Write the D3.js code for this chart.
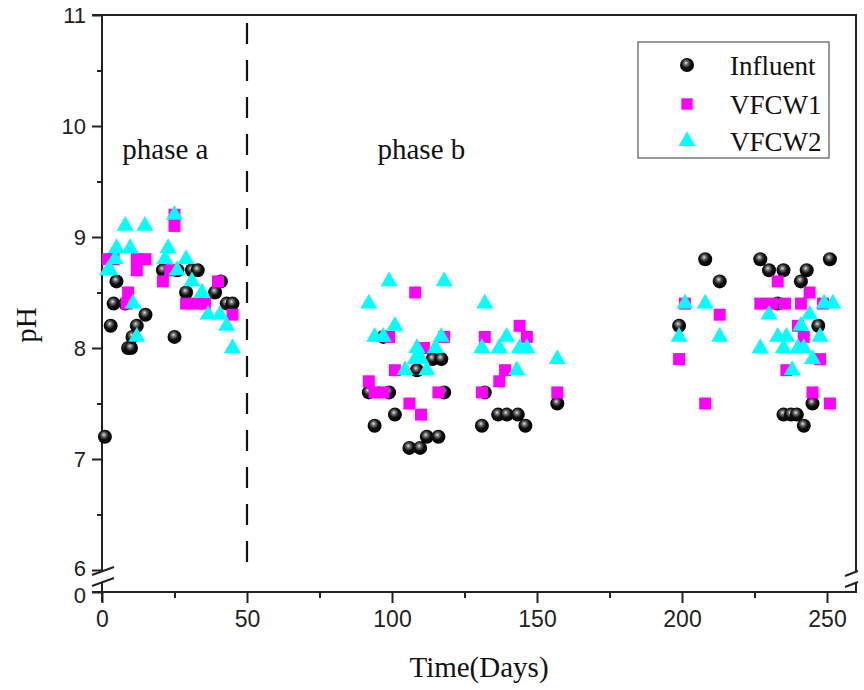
<!DOCTYPE html>
<html>
<head>
<meta charset="utf-8">
<script src="https://cdn.jsdelivr.net/npm/d3@7"></script>
<style>
  body { margin: 0; background: #fff; }
  .tick text { font-family: "Liberation Sans", Arial, sans-serif; font-size: 23px; fill: #222; }
  .ylab .tick text { font-size: 22px; }
  .serif { font-family: "Liberation Serif", "Times New Roman", serif; fill: #111; }
</style>
</head>
<body>
<svg id="chart" width="864" height="690"></svg>
<script>
// Influent
var influentDays = [1, 3, 4, 5, 8, 9, 10, 10.5, 12, 15, 21, 25, 26, 29, 31, 33, 39, 41, 43, 45,
    92, 94, 97, 99, 101, 106, 109.7, 108.6, 112, 116, 114, 117, 118, 131, 132, 136.6, 139.6, 143.4, 146, 157,
    199, 208, 213, 227, 230, 233, 235, 235, 237.6, 239.6, 241, 242, 243, 245, 247, 251]
var influentPH = [7.2, 8.2, 8.4, 8.6, 8.4, 8.0, 8.0, 8.1, 8.2, 8.3, 8.7, 8.1, 8.7, 8.5, 8.7, 8.7, 8.5, 8.6, 8.4, 8.4,
    7.6, 7.3, 8.1, 7.6, 7.4, 7.1, 7.1, 7.8, 7.2, 7.2, 7.9, 7.9, 7.6, 7.3, 7.6, 7.4, 7.4, 7.4, 7.3, 7.5,
    8.2, 8.8, 8.6, 8.8, 8.7, 8.4, 8.7, 7.4, 7.4, 7.4, 8.6, 7.3, 8.7, 7.5, 8.2, 8.8]

// VFCW1
var vfcw1Days = [2, 4, 8.5, 9, 12, 12, 15, 21, 23.5, 25, 25, 29, 33, 35.5, 40, 45,
    92, 94, 97, 99, 101, 106, 108, 110, 111, 116, 118, 131, 132, 137, 139, 144, 146.5, 157,
    199, 201, 208, 213, 227, 231, 233, 235.5, 236, 240, 241, 242, 244, 245, 247.6, 248.6, 251]
var vfcw1PH = [8.8, 8.8, 8.4, 8.5, 8.7, 8.8, 8.8, 8.6, 8.7, 9.1, 9.2, 8.4, 8.4, 8.4, 8.6, 8.3,
    7.7, 7.6, 7.6, 8.1, 7.8, 7.5, 8.5, 7.4, 8.0, 7.6, 8.1, 7.6, 8.1, 7.7, 7.8, 8.2, 8.1, 7.6,
    7.9, 8.4, 7.5, 8.3, 8.4, 8.4, 8.6, 8.4, 7.8, 8.2, 8.4, 8.1, 8.5, 7.6, 7.9, 8.4, 7.5]

// VFCW2
var vfcw2Days = [2, 2.8, 4.5, 5, 8, 9.7, 10.7, 12, 14.8, 21.7, 22.8, 25, 25.9, 29, 31, 34.5, 36.6, 40.7, 43, 45,
    92, 94, 97, 99, 101, 104.5, 108, 108.6, 110, 112, 115, 117, 118, 131, 132, 137, 139.5, 143, 144, 146.5, 157,
    199, 201, 208, 213, 227, 230, 233, 235, 236, 238, 240, 241, 242, 244, 245, 247.6, 249, 252]
var vfcw2PH = [8.7, 8.7, 8.8, 8.9, 9.1, 8.9, 8.4, 8.1, 9.1, 8.8, 8.9, 9.2, 8.7, 8.8, 8.6, 8.5, 8.3, 8.3, 8.2, 8.0,
    8.4, 8.1, 8.1, 8.6, 8.2, 7.8, 7.9, 8.0, 7.9, 7.8, 8.0, 8.1, 8.6, 8.0, 8.4, 8.0, 8.1, 7.8, 8.0, 8.0, 7.9,
    8.1, 8.4, 8.4, 8.1, 8.0, 8.3, 8.1, 8.0, 8.1, 7.8, 8.0, 8.2, 8.0, 8.3, 7.9, 8.1, 8.4, 8.4]

var xMajorTicks = [0, 50, 100, 150, 200, 250]
var xMinorTicks = [25, 75, 125, 175, 225]
var yMajorTicks = [6, 7, 8, 9, 10, 11]
var yMinorTicks = [6.5, 7.5, 8.5, 9.5, 10.5]
var seriesNames = ['Influent', 'VFCW1', 'VFCW2']
var phaseLabels = [{text: 'phase a', day: 7, ph: 9.7}, {text: 'phase b', day: 95, ph: 9.7}]
var phaseBoundary = 50

function zip(days, ph) {
    return days.map(function (d, i) { return {day: d, ph: ph[i]} })
}

function desenhar() {
    var svg = d3.select('#chart')

    var left = 102, right = 856, top = 15, bottom = 592, yBreakBottom = 570

    var x = d3.scaleLinear().domain([0, 260]).range([left, right])
    var y = d3.scaleLinear().domain([6, 11]).range([yBreakBottom, top])

    // gradient for glossy black balls
    var defs = svg.append('defs')
    var grad = defs.append('radialGradient')
        .attr('id', 'ball')
        .attr('cx', '45%').attr('cy', '40%').attr('r', '60%')
        .attr('fx', '42%').attr('fy', '35%')
    grad.append('stop').attr('offset', '0%').attr('stop-color', '#e8e8e8')
    grad.append('stop').attr('offset', '22%').attr('stop-color', '#777')
    grad.append('stop').attr('offset', '55%').attr('stop-color', '#111')
    grad.append('stop').attr('offset', '100%').attr('stop-color', '#000')

    // x axis (bottom)
    var xAxis = d3.axisBottom(x).tickValues(xMajorTicks).tickSize(11).tickPadding(8).tickFormat(d3.format('d'))
    var gx = svg.append('g')
        .attr('transform', 'translate(0,' + bottom + ')')
        .call(xAxis)
    gx.select('.domain').remove()
    gx.selectAll('.tick line').attr('stroke', '#222').attr('stroke-width', 2)

    svg.append('g')
        .attr('transform', 'translate(0,' + bottom + ')')
        .call(d3.axisBottom(x).tickValues(xMinorTicks).tickSize(6).tickFormat(''))
        .call(function (g) { g.select('.domain').remove() })
        .selectAll('.tick line').attr('stroke', '#222').attr('stroke-width', 2)

    // y axis (left, upper part)
    var gy = svg.append('g')
        .attr('class', 'ylab')
        .attr('transform', 'translate(' + left + ',0)')
        .call(d3.axisLeft(y).tickValues(yMajorTicks).tickSize(10).tickPadding(6).tickFormat(d3.format('d')))
    gy.select('.domain').remove()
    gy.selectAll('.tick line').attr('stroke', '#222').attr('stroke-width', 2)
    gy.selectAll('.tick text').attr('dy', '0.36em')
        .filter(function (d) { return d === 6 })
        .attr('y', -2)

    svg.append('g')
        .attr('transform', 'translate(' + left + ',0)')
        .call(d3.axisLeft(y).tickValues(yMinorTicks).tickSize(5).tickFormat(''))
        .call(function (g) { g.select('.domain').remove() })
        .selectAll('.tick line').attr('stroke', '#222').attr('stroke-width', 2)

    // y axis lower part, only the 0
    var yLow = d3.scaleLinear().domain([0, 1]).range([bottom, bottom - 111])
    var gy0 = svg.append('g')
        .attr('class', 'ylab')
        .attr('transform', 'translate(' + left + ',0)')
        .call(d3.axisLeft(yLow).tickValues([0]).tickSize(10).tickPadding(6).tickFormat(d3.format('d')))
    gy0.select('.domain').remove()
    gy0.selectAll('.tick line').attr('stroke', '#222').attr('stroke-width', 2)
    gy0.selectAll('.tick text').attr('dy', '0.36em').attr('y', 3)

    // frame lines
    var frame = svg.append('g').attr('stroke', '#222').attr('stroke-width', 2).attr('fill', 'none')
    frame.append('line').attr('x1', left - 10).attr('x2', right + 1).attr('y1', top).attr('y2', top)
    frame.append('line').attr('x1', left - 10).attr('x2', right + 1).attr('y1', bottom).attr('y2', bottom)
    frame.append('line').attr('x1', left).attr('x2', left).attr('y1', top).attr('y2', yBreakBottom + 2)
    frame.append('line').attr('x1', left).attr('x2', left).attr('y1', yBreakBottom + 13).attr('y2', bottom + 10)
    frame.append('line').attr('x1', right).attr('x2', right).attr('y1', top).attr('y2', yBreakBottom + 2)
    frame.append('line').attr('x1', right).attr('x2', right).attr('y1', yBreakBottom + 13).attr('y2', bottom)

    // break marks
    var brk = svg.append('g').attr('stroke', '#222').attr('stroke-width', 2)
    ;[0, 11].forEach(function (o) {
        brk.append('line').attr('x1', left - 10).attr('y1', yBreakBottom + 5 + o)
            .attr('x2', left + 12).attr('y2', yBreakBottom - 3 + o)
        brk.append('line').attr('x1', right - 11).attr('y1', yBreakBottom + 6 + o)
            .attr('x2', right + 2).attr('y2', yBreakBottom + 1 + o)
    })

    // phase separator
    svg.append('line')
        .attr('x1', x(phaseBoundary)).attr('x2', x(phaseBoundary))
        .attr('y1', top + 8).attr('y2', yBreakBottom + 4)
        .attr('stroke', '#111').attr('stroke-width', 2.2)
        .attr('stroke-dasharray', '21,16')

    // phase labels
    svg.selectAll('.phase')
        .data(phaseLabels)
        .enter()
        .append('text')
        .attr('class', 'serif')
        .attr('x', function (d) { return x(d.day) })
        .attr('y', function (d) { return y(d.ph) })
        .attr('font-size', 29)
        .text(function (d) { return d.text })

    // points
    var gPts = svg.append('g')
    gPts.selectAll('.inf')
        .data(zip(influentDays, influentPH))
        .enter()
        .append('circle')
        .attr('cx', function (d) { return x(d.day) })
        .attr('cy', function (d) { return y(d.ph) })
        .attr('r', 7)
        .attr('fill', 'url(#ball)')

    var sq = d3.symbol().type(d3.symbolSquare).size(144)
    gPts.selectAll('.v1')
        .data(zip(vfcw1Days, vfcw1PH))
        .enter()
        .append('path')
        .attr('d', sq)
        .attr('transform', function (d) { return 'translate(' + x(d.day) + ',' + y(d.ph) + ')' })
        .attr('fill', '#ff00ff')

    var tri = d3.symbol().type(d3.symbolTriangle).size(125)
    gPts.selectAll('.v2')
        .data(zip(vfcw2Days, vfcw2PH))
        .enter()
        .append('path')
        .attr('d', tri)
        .attr('transform', function (d) { return 'translate(' + x(d.day) + ',' + y(d.ph) + ')' })
        .attr('fill', '#00ffff')

    // legend
    var lg = svg.append('g')
    lg.append('rect')
        .attr('x', 638).attr('y', 42).attr('width', 191).attr('height', 116)
        .attr('fill', '#fff').attr('stroke', '#555').attr('stroke-width', 1.2)
    var rows = [65, 104, 141]
    lg.append('circle').attr('cx', 687).attr('cy', rows[0]).attr('r', 7).attr('fill', 'url(#ball)')
    lg.append('path').attr('d', d3.symbol().type(d3.symbolSquare).size(130))
        .attr('transform', 'translate(687,' + rows[1] + ')').attr('fill', '#ff00ff')
    lg.append('path').attr('d', tri)
        .attr('transform', 'translate(687,' + rows[2] + ')').attr('fill', '#00ffff')
    lg.selectAll('.lt')
        .data(seriesNames)
        .enter()
        .append('text')
        .attr('class', 'serif')
        .attr('x', 730)
        .attr('y', function (d, i) { return rows[i] + 10 })
        .attr('font-size', 27)
        .text(function (d) { return d })

    // axis titles
    svg.append('text')
        .attr('class', 'serif')
        .attr('x', (left + right) / 2)
        .attr('y', 677)
        .attr('text-anchor', 'middle')
        .attr('font-size', 29)
        .text('Time(Days)')

    svg.append('text')
        .attr('class', 'serif')
        .attr('transform', 'translate(36,325) rotate(-90)')
        .attr('text-anchor', 'middle')
        .attr('font-size', 29)
        .text('pH')
}

desenhar()
</script>
</body>
</html>
